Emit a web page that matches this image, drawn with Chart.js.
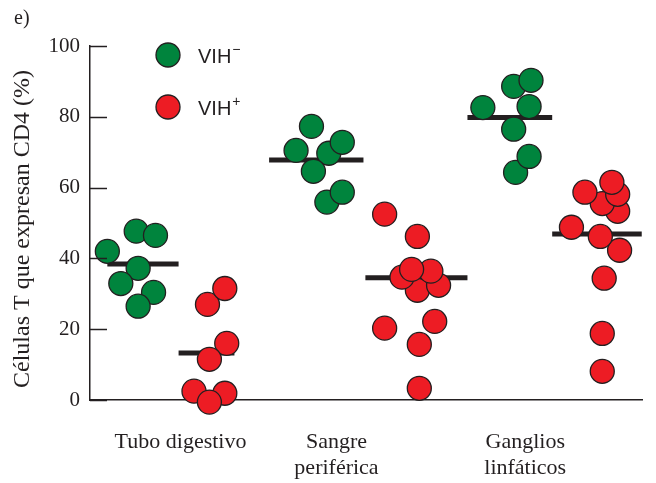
<!DOCTYPE html>
<html>
<head>
<meta charset="utf-8">
<script src="https://cdn.jsdelivr.net/npm/chart.js@4"></script>
<style>
  html, body { margin: 0; padding: 0; background: #fff; }
  #wrap { width: 656px; height: 483px; position: relative; }
</style>
</head>
<body>
<div id="wrap"><canvas id="myChart"></canvas></div>
<script>
// === DATA ===
const categories = ['Tubo digestivo', ['Sangre', 'periférica'], ['Ganglios', 'linfáticos']];
const categoryLabelX = [0.04, 0.85, 1.83];
const yTicks = [0, 20, 40, 60, 80, 100];

// VIH- (verde): x = grupo + desplazamiento, y = %
const vihNegX = [-0.34, -0.19, -0.09, -0.18, -0.27, -0.10, -0.18,
                 0.72, 0.64, 0.81, 0.88, 0.73, 0.80, 0.88,
                 1.61, 1.77, 1.86, 1.85, 1.77, 1.78, 1.85];
const vihNegY = [42.0, 47.7, 46.5, 37.2, 32.9, 30.4, 26.5,
                 77.3, 70.5, 69.7, 72.8, 64.6, 55.9, 58.7,
                 82.6, 88.6, 90.3, 82.9, 76.5, 64.3, 68.8];

// VIH+ (rojo)
const vihPosX = [0.18, 0.27, 0.28, 0.19, 0.11, 0.27, 0.19,
                 1.10, 1.27, 1.10, 1.36, 1.28, 1.28, 1.27, 1.38, 1.19, 1.34, 1.24,
                 2.32, 2.31, 2.23, 2.14, 2.31, 2.28, 2.07, 2.22, 2.24, 2.23, 2.23];
const vihPosY = [27.0, 31.5, 16.0, 11.5, 2.5, 1.9, -0.6,
                 52.5, 46.2, 20.3, 22.2, 15.7, 3.3, 31.0, 32.4, 34.7, 36.4, 36.9,
                 42.3, 53.3, 55.5, 58.7, 58.1, 61.5, 48.8, 46.2, 34.4, 18.8, 8.1];

// medias (barras horizontales) y su extensión en x
const vihNegMean = [38.4, 67.8, 79.8];
const vihNegMeanSpan = [[-0.34, 0.03], [0.50, 0.99], [1.53, 1.97]];
const vihPosMean = [13.3, 34.5, 46.9];
const vihPosMeanSpan = [[0.03, 0.32], [1.00, 1.53], [1.97, 2.435]];

const GREEN = '#00843d';
const RED = '#ed1c24';
const INK = '#231f20';
const SERIF = "'Liberation Serif', 'DejaVu Serif', serif";
const SANS = "'Liberation Sans', Arial, sans-serif";

function toPoints(xs, ys) {
  return xs.map((x, i) => ({ x: x, y: ys[i] }));
}

const meanDatasets = [];
[[vihNegMean, vihNegMeanSpan], [vihPosMean, vihPosMeanSpan]].forEach(pair => {
  pair[0].forEach((m, i) => {
    meanDatasets.push({
      type: 'line',
      data: [{ x: pair[1][i][0], y: m }, { x: pair[1][i][1], y: m }],
      borderColor: INK,
      borderWidth: 5,
      borderCapStyle: 'butt',
      pointRadius: 0,
      fill: false,
      order: 5
    });
  });
});

// y ticks hacia dentro, leyenda, titulo del eje y "e)"
const decorPlugin = {
  id: 'decor',
  afterDatasetsDraw(chart) {
    const ctx = chart.ctx;
    const y = chart.scales.y;
    const left = chart.chartArea.left;
    ctx.save();
    ctx.strokeStyle = INK;
    ctx.lineWidth = 1.5;
    yTicks.forEach(v => {
      const py = Math.round(y.getPixelForValue(v)) + 0.5;
      ctx.beginPath();
      ctx.moveTo(left, py);
      ctx.lineTo(left + 17, py);
      ctx.stroke();
    });

    // titulo del eje y
    ctx.save();
    ctx.translate(23, 229);
    ctx.rotate(-Math.PI / 2);
    ctx.fillStyle = INK;
    ctx.font = '24px ' + SERIF;
    ctx.textAlign = 'center';
    ctx.textBaseline = 'middle';
    ctx.fillText('Células T que expresan CD4 (%)', 0, 0);
    ctx.restore();

    // leyenda
    const items = [[GREEN, '−', 55], [RED, '+', 107]];
    items.forEach(it => {
      ctx.beginPath();
      ctx.arc(168, it[2], 12, 0, Math.PI * 2);
      ctx.fillStyle = it[0];
      ctx.fill();
      ctx.lineWidth = 1.3;
      ctx.strokeStyle = INK;
      ctx.stroke();
      ctx.fillStyle = INK;
      ctx.font = '20px ' + SANS;
      ctx.textBaseline = 'alphabetic';
      ctx.textAlign = 'left';
      ctx.fillText('VIH', 198, it[2] + 8);
      const w = ctx.measureText('VIH').width;
      ctx.font = '14px ' + SANS;
      ctx.fillText(it[1], 198 + w + 1, it[2] - 1);
    });

    ctx.font = '20px ' + SERIF;
    ctx.fillText('e)', 14, 24);
    ctx.restore();
  }
};

document.addEventListener('DOMContentLoaded', function () {
  const ctx = document.getElementById('myChart');
  new Chart(ctx, {
    type: 'scatter',
    data: {
      datasets: [
        {
          label: 'VIH−',
          data: toPoints(vihNegX, vihNegY),
          backgroundColor: GREEN,
          borderColor: INK,
          borderWidth: 1.3,
          pointRadius: 12,
          pointHoverRadius: 12,
          order: 1
        },
        {
          label: 'VIH+',
          data: toPoints(vihPosX, vihPosY),
          backgroundColor: RED,
          borderColor: INK,
          borderWidth: 1.3,
          pointRadius: 12,
          pointHoverRadius: 12,
          order: 1
        }
      ].concat(meanDatasets)
    },
    options: {
      responsive: true,
      maintainAspectRatio: false,
      animation: false,
      clip: false,
      layout: { padding: { top: 46, right: 5, left: 0, bottom: 0 } },
      plugins: {
        legend: { display: false },
        tooltip: { enabled: false }
      },
      scales: {
        x: {
          type: 'linear',
          min: -0.43,
          max: 2.44,
          grid: { display: false, drawTicks: false },
          border: { display: true, color: INK, width: 1.5 },
          afterBuildTicks: function (scale) {
            scale.ticks = categoryLabelX.map(v => ({ value: v }));
          },
          afterFit: function (scale) { scale.height = 83; },
          ticks: {
            autoSkip: false,
            maxRotation: 0,
            padding: 30,
            color: INK,
            font: { family: SERIF, size: 22, lineHeight: 1.15 },
            callback: function (value, index) { return categories[index]; }
          }
        },
        y: {
          min: 0,
          max: 100,
          grid: { display: false, drawTicks: false },
          border: { display: true, color: INK, width: 1.5 },
          afterBuildTicks: function (scale) {
            scale.ticks = yTicks.map(v => ({ value: v }));
          },
          afterFit: function (scale) { scale.width = 90; },
          ticks: {
            padding: 10,
            color: INK,
            font: { family: SERIF, size: 21 }
          }
        }
      }
    },
    plugins: [decorPlugin]
  });
});
</script>
</body>
</html>
